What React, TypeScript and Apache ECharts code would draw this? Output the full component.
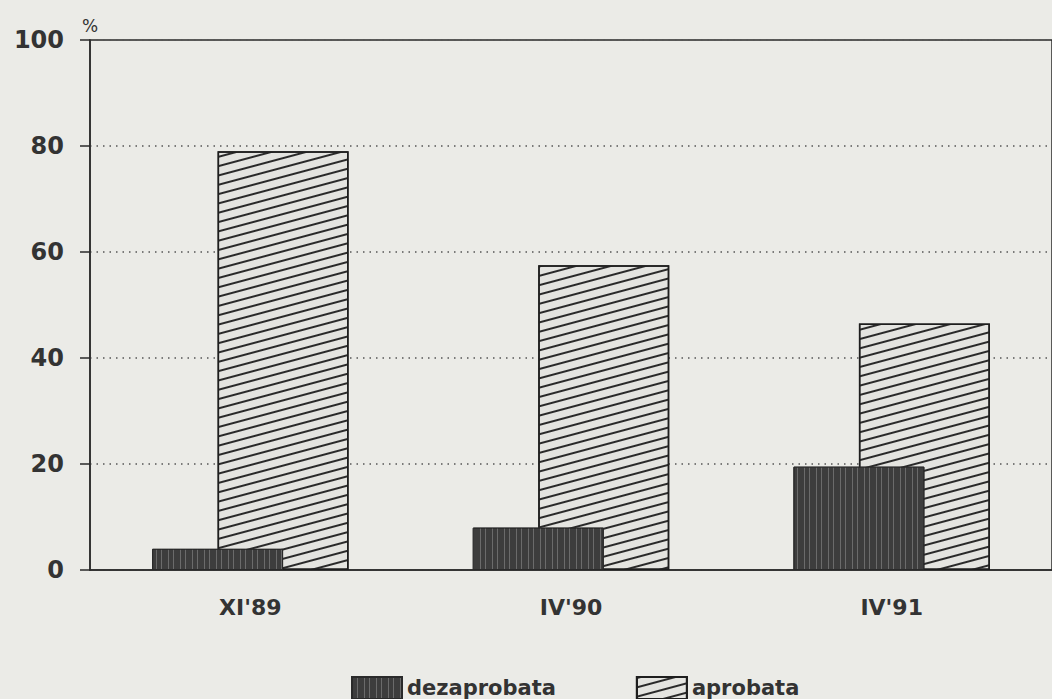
import React, { useEffect, useRef } from "react";
import * as echarts from "echarts";

const categories = ["XI'89", "IV'90", "IV'91"];
const dezaprobata = [4, 8, 19.5];
const aprobata = [79, 57.5, 46.5];
const yTicks = { min: 0, max: 100, interval: 20 };

export default function App() {
  const ref = useRef<HTMLDivElement>(null);
  useEffect(() => {
    if (!ref.current) return;
    const chart = echarts.init(ref.current, null, { renderer: "svg" });
    const font = "'DejaVu Sans', Verdana, sans-serif";
    chart.setOption({
      animation: false,
      backgroundColor: "#ebebe7",
      grid: {
        left: 90,
        right: -15,
        top: 40,
        bottom: 129,
        show: true,
        borderColor: "#2a2a2a",
        borderWidth: 1.5,
        backgroundColor: "transparent",
      },
      legend: {
        left: 346,
        top: 671,
        itemWidth: 50,
        itemHeight: 22,
        itemGap: 80,
        icon: "rect",
        textStyle: { fontFamily: font, fontSize: 21, fontWeight: "bold", color: "#333" },
        data: ["dezaprobata", "aprobata"],
      },
      xAxis: {
        type: "category",
        data: categories,
        axisLine: { lineStyle: { color: "#2a2a2a", width: 1.5 } },
        axisTick: { alignWithLabel: true, length: 12, lineStyle: { color: "#2a2a2a", width: 1.5 } },
        axisLabel: { margin: 26, fontFamily: font, fontSize: 22, fontWeight: "bold", color: "#333" },
      },
      yAxis: {
        type: "value",
        min: yTicks.min,
        max: yTicks.max,
        interval: yTicks.interval,
        name: "%",
        nameGap: 6,
        nameTextStyle: { fontFamily: font, fontSize: 17, color: "#333", align: "center" },
        axisLine: { show: true, lineStyle: { color: "#2a2a2a", width: 1.5 } },
        axisTick: { show: true, length: 10, lineStyle: { color: "#2a2a2a", width: 1.5 } },
        axisLabel: { margin: 26, fontFamily: font, fontSize: 24, fontWeight: "bold", color: "#333" },
        splitLine: { show: true, lineStyle: { color: "#555", width: 1.5, type: [1.5, 5] } },
      },
      series: [
        {
          name: "dezaprobata",
          type: "bar",
          data: dezaprobata,
          barWidth: 131,
          barGap: "-50%",
          z: 3,
          itemStyle: {
            color: "#3d3d3d",
            borderColor: "#2a2a2a",
            borderWidth: 1,
            decal: {
              symbol: "rect",
              color: "rgba(190,190,190,0.35)",
              dashArrayX: [[1, 4, 1, 6]],
              dashArrayY: [1, 0],
              symbolSize: 1,
              rotation: 0,
            },
          },
        },
        {
          name: "aprobata",
          type: "bar",
          data: aprobata,
          barWidth: 131,
          z: 2,
          itemStyle: {
            color: "#e4e4e0",
            borderColor: "#1e1e1e",
            borderWidth: 1.5,
            decal: {
              symbol: "rect",
              color: "#2a2a2a",
              dashArrayX: [1, 0],
              dashArrayY: [1.5, 6.5],
              symbolSize: 1,
              rotation: -Math.PI / 12,
            },
          },
        },
      ],
    });
    return () => chart.dispose();
  }, []);
  return (
    <div
      ref={ref}
      style={{ position: "fixed", left: 0, top: 0, width: 1052, height: 699 }}
    />
  );
}
